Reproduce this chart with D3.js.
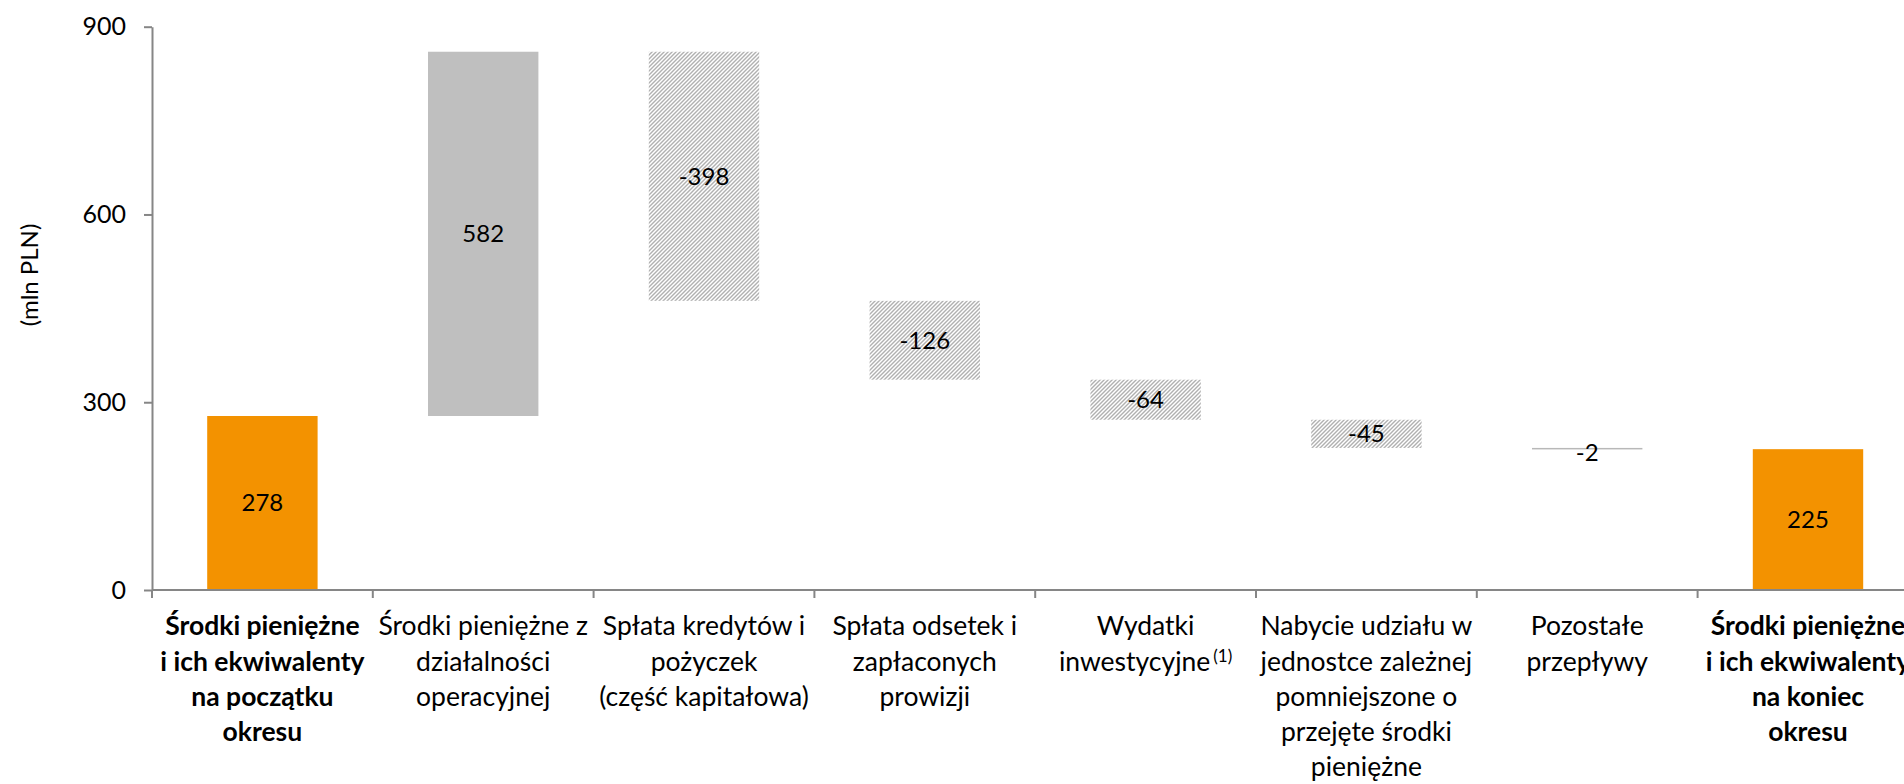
<!DOCTYPE html>
<html><head><meta charset="utf-8">
<script src="https://cdn.jsdelivr.net/npm/d3@7"></script>
<style>
html,body{margin:0;padding:0;background:#fff;}
svg{display:block;}
text{font-family:Lato,"Open Sans",sans-serif;fill:#000;}
</style></head>
<body>
<svg id="chart" width="1904" height="784"></svg>
<script>
// ---- data ----
const categories = ["start","operating","loans","interest","capex","acquisition","other","end"];
const categoryLabels = [
  ["Środki pieniężne","i ich ekwiwalenty","na początku","okresu"],
  ["Środki pieniężne z","działalności","operacyjnej"],
  ["Spłata kredytów i","pożyczek","(część kapitałowa)"],
  ["Spłata odsetek i","zapłaconych","prowizji"],
  ["Wydatki","inwestycyjne"],
  ["Nabycie udziału w","jednostce zależnej","pomniejszone o","przejęte środki","pieniężne"],
  ["Pozostałe","przepływy"],
  ["Środki pieniężne","i ich ekwiwalenty","na koniec","okresu"]
];
const boldLabels = [true,false,false,false,false,false,false,true];
const footnotes = ["","","","","(1)","","",""];
const values = [278, 582, -398, -126, -64, -45, -2, 225];
const barTypes = ["total","increase","decrease","decrease","decrease","decrease","decrease","total"];
const yTicks = [0, 300, 600, 900];
const yTitle = "(mln PLN)";

// ---- waterfall ranges ----
let running = 0;
const bars = categories.map((c, i) => {
  let lo, hi;
  if (barTypes[i] === "total") { lo = 0; hi = values[i]; running = values[i]; }
  else { const s = running; running += values[i]; lo = Math.min(s, running); hi = Math.max(s, running); }
  return {c, i, v: values[i], lo, hi, t: barTypes[i]};
});

const svg = d3.select("#chart");
const x = d3.scaleBand().domain(categories).range([152, 1918.4]).paddingInner(0.5).paddingOuter(0.25);
const y = d3.scaleLinear().domain([0, 900]).range([590, 26.7]);

// hatch pattern
const defs = svg.append("defs");
const pat = defs.append("pattern").attr("id","hatch").attr("patternUnits","userSpaceOnUse")
  .attr("width",4).attr("height",4);
pat.append("rect").attr("width",4).attr("height",4).attr("fill","#ffffff");
pat.append("path").attr("d","M-1,1 l2,-2 M0,4 l4,-4 M3,5 l2,-2")
  .attr("stroke","#b0b0b0").attr("stroke-width",1.4);

const fillFor = d => d.t === "total" ? "#f39200" : d.t === "increase" ? "#bfbfbf"
  : (y(d.lo) - y(d.hi) < 3 ? "#b8b8b8" : "url(#hatch)");

svg.append("g").selectAll("rect").data(bars).join("rect")
  .attr("x", d => x(d.c)).attr("width", x.bandwidth())
  .attr("y", d => y(d.hi)).attr("height", d => Math.max(1.5, y(d.lo) - y(d.hi)))
  .attr("fill", fillFor);

// data labels
svg.append("g").selectAll("text").data(bars).join("text")
  .attr("x", d => x(d.c) + x.bandwidth()/2)
  .attr("y", d => (y(d.lo) + y(d.hi))/2 + (d.t === "decrease" && Math.abs(d.v) < 5 ? 4 : 0))
  .attr("dy", "0.35em").attr("text-anchor","middle")
  .style("font-size","24px")
  .text(d => d.v);

// y axis
const yAxis = svg.append("g").attr("transform","translate(152,0)")
  .call(d3.axisLeft(y).tickValues(yTicks).tickSize(8).tickPadding(18).tickSizeOuter(0));
yAxis.select(".domain").attr("stroke","#868686").attr("stroke-width",2);
yAxis.selectAll(".tick line").attr("stroke","#868686").attr("stroke-width",2);
yAxis.selectAll(".tick text").style("font-size","25px").style("font-family","Lato,'Open Sans',sans-serif").attr("fill","#000");

// y title
svg.append("text").attr("transform","translate(30,275) rotate(-90)")
  .attr("text-anchor","middle").attr("dy","0.35em").style("font-size","24px").text(yTitle);

// x axis
const half = (x.step() - x.bandwidth())/2;
const bounds = categories.map(c => x(c) - half).concat([x.range()[1]]);
const xg = svg.append("g");
xg.append("line").attr("x1", x.range()[0]).attr("x2", x.range()[1]).attr("y1", y(0)).attr("y2", y(0))
  .attr("stroke","#868686").attr("stroke-width",2);
xg.selectAll("line.tk").data(bounds).join("line").attr("class","tk")
  .attr("x1", d => d).attr("x2", d => d).attr("y1", y(0)).attr("y2", y(0) + 8)
  .attr("stroke","#868686").attr("stroke-width",2);

// category labels
const lab = svg.append("g").selectAll("text").data(bars).join("text")
  .attr("text-anchor","start")
  .style("font-size","26.5px")
  .style("font-weight", d => boldLabels[d.i] ? "bold" : "normal");
lab.each(function(d){
  const t = d3.select(this);
  const cx = x(d.c) + x.bandwidth()/2;
  const lines = categoryLabels[d.i];
  lines.forEach((line, k) => {
    const ts = t.append("tspan").attr("y", 626 + k*35.3).attr("dy","0.35em").text(line);
    let w = ts.node().getComputedTextLength();
    if (k === lines.length - 1 && footnotes[d.i]) {
      const sup = t.append("tspan").attr("dx", 3).attr("dy","-0.5em").style("font-size","17px").text(footnotes[d.i]);
      w += sup.node().getComputedTextLength() + 3;
    }
    ts.attr("x", cx - w/2);
  });
});
</script>
</body></html>
